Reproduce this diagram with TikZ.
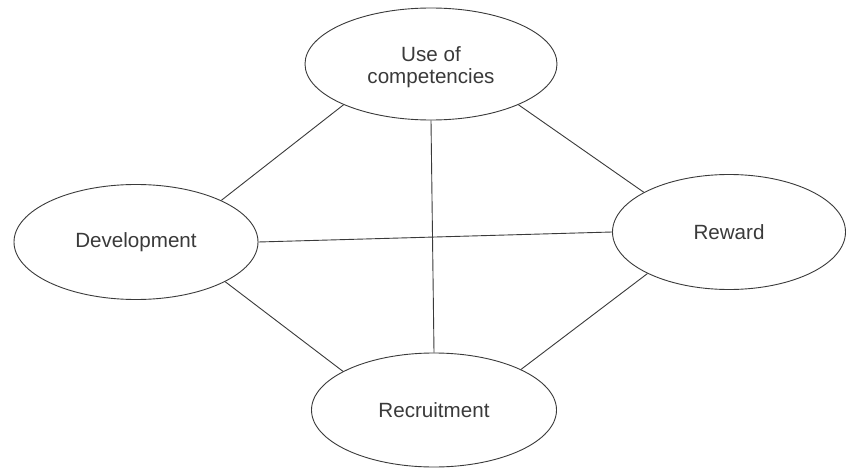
\documentclass[tikz,border=0pt]{standalone}
\usepackage{fontspec}
\setmainfont{Liberation Sans}
\usetikzlibrary{shapes.geometric}
\definecolor{ink}{HTML}{3A3A3A}
\begin{document}
\begin{tikzpicture}[x=1pt,y=-1pt,
  oval/.style={ellipse, draw=ink, line width=0.9pt, inner sep=0pt, text=ink,
    font=\fontsize{20.6}{22}\selectfont, align=center},
  link/.style={draw=ink, line width=0.9pt}]
\useasboundingbox[fill=white] (0,0) rectangle (846,468);
\node[oval, minimum width=252pt, minimum height=112pt] (T) at (431,64) {};
\node[text=ink, font=\fontsize{20.6}{22}\selectfont, align=center] (Tt) at (431,67) {Use of\\competencies};
\node[oval, minimum width=244pt, minimum height=115pt] (L) at (136,242) {Development};
\node[oval, minimum width=233pt, minimum height=115pt] (R) at (729,232) {Reward};
\node[oval, minimum width=245pt, minimum height=114pt] (B) at (434,410) {Recruitment};
\draw[link] (T.205.6) -- (L.26.6);
\draw[link] (T.270) -- (B.90);
\draw[link] (T.335.4) -- (R.155);
\draw[link] (L.0) -- (R.180);
\draw[link] (L.336) -- (B.157);
\draw[link] (R.207) -- (B.25);
\end{tikzpicture}
\end{document}
